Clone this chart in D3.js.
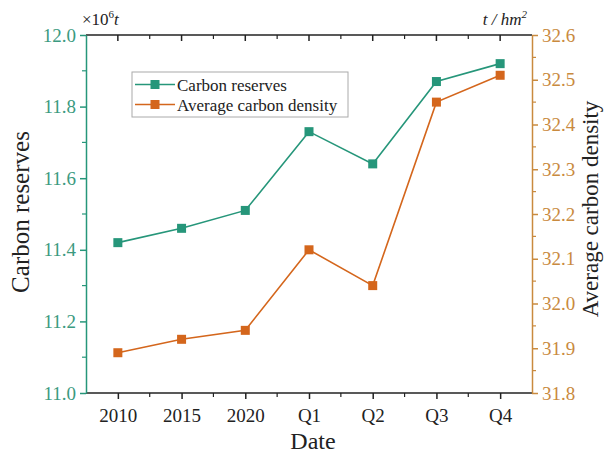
<!DOCTYPE html>
<html>
<head>
<meta charset="utf-8">
<script src="https://cdn.jsdelivr.net/npm/d3@7"></script>
<style>
  body { margin: 0; background: #fff; }
  svg, svg text { font-family: "Liberation Serif", "Times New Roman", serif; }
</style>
</head>
<body>
<script>
(function () {
    'use strict';

    var categories = ['2010', '2015', '2020', 'Q1', 'Q2', 'Q3', 'Q4'];
    var reserves = [11.42, 11.46, 11.51, 11.73, 11.64, 11.87, 11.92];
    var density = [31.89, 31.92, 31.94, 32.12, 32.04, 32.45, 32.51];
    var leftTicks = [11.0, 11.2, 11.4, 11.6, 11.8, 12.0];
    var rightTicks = [31.8, 31.9, 32.0, 32.1, 32.2, 32.3, 32.4, 32.5, 32.6];

    var green = '#26967a';
    var greenText = '#3b9a80';
    var orange = '#d4661c';
    var orangeAxis = '#c98a3e';
    var serif = '"Liberation Serif", "Times New Roman", serif';

    var width = 605, height = 454;
    var left = 86, right = 532, top = 35, bottom = 393;

    var svg = d3.select('body')
        .append('svg')
        .attr('width', width)
        .attr('height', height);

    var x = d3.scaleLinear()
        .domain([-0.5, categories.length - 0.5])
        .range([left, right]);
    var yL = d3.scaleLinear().domain([11.0, 12.0]).range([bottom, top]);
    var yR = d3.scaleLinear().domain([31.8, 32.6]).range([bottom, top]);

    var idx = d3.range(categories.length);
    var halfIdx = d3.range(0.5, categories.length - 1, 1);

    // bottom axis
    var gB = svg.append('g').attr('transform', 'translate(0,' + bottom + ')');
    gB.call(d3.axisBottom(x).tickValues(idx).tickSize(6)
        .tickFormat(function (d) { return categories[d]; }))
        .attr('font-family', null);
    gB.select('.domain').remove();
    gB.selectAll('.tick line').attr('stroke', '#222').attr('stroke-width', 1.5);
    gB.selectAll('.tick text')
        .style('font-family', serif).style('font-size', '19px')
        .attr('fill', '#222').attr('dy', '1.05em');
    gB.selectAll('.minor').data(halfIdx).enter().append('line')
        .attr('x1', function (d) { return x(d); })
        .attr('x2', function (d) { return x(d); })
        .attr('y1', 0).attr('y2', 4)
        .attr('stroke', '#222').attr('stroke-width', 1.2);

    // top axis (mirror, ticks inward)
    var gT = svg.append('g').attr('transform', 'translate(0,' + top + ')');
    gT.selectAll('.maj').data(idx).enter().append('line')
        .attr('x1', function (d) { return x(d); })
        .attr('x2', function (d) { return x(d); })
        .attr('y1', 0).attr('y2', 6)
        .attr('stroke', '#222').attr('stroke-width', 1.5);
    gT.selectAll('.minor').data(halfIdx).enter().append('line')
        .attr('x1', function (d) { return x(d); })
        .attr('x2', function (d) { return x(d); })
        .attr('y1', 0).attr('y2', 4)
        .attr('stroke', '#222').attr('stroke-width', 1.2);

    svg.append('line').attr('x1', left).attr('x2', right)
        .attr('y1', top).attr('y2', top)
        .attr('stroke', '#222').attr('stroke-width', 1.5);
    svg.append('line').attr('x1', left).attr('x2', right)
        .attr('y1', bottom).attr('y2', bottom)
        .attr('stroke', '#222').attr('stroke-width', 1.5);

    // left axis
    var gL = svg.append('g').attr('transform', 'translate(' + left + ',0)');
    gL.call(d3.axisLeft(yL).tickValues(leftTicks).tickSize(6).tickSizeOuter(0)
        .tickFormat(d3.format('.1f')))
        .attr('font-family', null);
    gL.select('.domain').attr('stroke', green).attr('stroke-width', 1.5);
    gL.selectAll('.tick line').attr('stroke', green).attr('stroke-width', 1.5);
    gL.selectAll('.tick text').style('font-family', serif).style('font-size', '19px')
        .attr('fill', greenText).attr('x', -10);
    gL.selectAll('.minor').data(d3.range(11.1, 12.0, 0.2)).enter().append('line')
        .attr('x1', 0).attr('x2', -4)
        .attr('y1', function (d) { return yL(d); })
        .attr('y2', function (d) { return yL(d); })
        .attr('stroke', green).attr('stroke-width', 1.2);

    // right axis
    var gR = svg.append('g').attr('transform', 'translate(' + right + ',0)');
    gR.call(d3.axisRight(yR).tickValues(rightTicks).tickSize(6).tickSizeOuter(0)
        .tickFormat(d3.format('.1f')))
        .attr('font-family', null);
    gR.select('.domain').attr('stroke', orangeAxis).attr('stroke-width', 1.5);
    gR.selectAll('.tick line').attr('stroke', orangeAxis).attr('stroke-width', 1.5);
    gR.selectAll('.tick text').style('font-family', serif).style('font-size', '19px')
        .attr('fill', orangeAxis).attr('x', 10);
    gR.selectAll('.minor').data(d3.range(31.85, 32.6, 0.1)).enter().append('line')
        .attr('x1', 0).attr('x2', 4)
        .attr('y1', function (d) { return yR(d); })
        .attr('y2', function (d) { return yR(d); })
        .attr('stroke', orangeAxis).attr('stroke-width', 1.2);

    // series
    function drawSeries(values, yScale, color) {
        var line = d3.line()
            .x(function (d, i) { return x(i); })
            .y(function (d) { return yScale(d); });
        svg.append('path').datum(values)
            .attr('d', line)
            .attr('fill', 'none')
            .attr('stroke', color)
            .attr('stroke-width', 1.6);
        svg.append('g').selectAll('rect').data(values).enter().append('rect')
            .attr('x', function (d, i) { return x(i) - 4.5; })
            .attr('y', function (d) { return yScale(d) - 4.5; })
            .attr('width', 9).attr('height', 9)
            .attr('fill', color);
    }
    drawSeries(reserves, yL, green);
    drawSeries(density, yR, orange);

    // legend
    var lg = svg.append('g');
    lg.append('rect').attr('x', 132).attr('y', 72).attr('width', 216).attr('height', 45)
        .attr('fill', '#fff').attr('stroke', '#aaa').attr('stroke-width', 1);
    [['Carbon reserves', green], ['Average carbon density', orange]].forEach(function (d, i) {
        var yy = 84.5 + i * 20;
        lg.append('line').attr('x1', 135).attr('x2', 175).attr('y1', yy).attr('y2', yy)
            .attr('stroke', d[1]).attr('stroke-width', 1.6);
        lg.append('rect').attr('x', 155 - 4.5).attr('y', yy - 4.5)
            .attr('width', 9).attr('height', 9).attr('fill', d[1]);
        lg.append('text').attr('x', 177).attr('y', yy + 6)
            .style('font-size', '17px').attr('fill', '#222').text(d[0]);
    });

    // axis titles
    svg.append('text')
        .attr('transform', 'translate(29,' + 212 + ') rotate(-90)')
        .attr('text-anchor', 'middle').style('font-size', '25px').attr('fill', '#222')
        .text('Carbon reserves');
    svg.append('text')
        .attr('transform', 'translate(598,' + 209 + ') rotate(-90)')
        .attr('text-anchor', 'middle').style('font-size', '23px').attr('fill', '#222')
        .text('Average carbon density');
    svg.append('text').attr('x', (left + right) / 2 + 4).attr('y', 449)
        .attr('text-anchor', 'middle').style('font-size', '24px').attr('fill', '#222')
        .text('Date');

    // unit labels
    var u1 = svg.append('text').attr('x', 82).attr('y', 25)
        .style('font-size', '17px').attr('fill', '#222');
    u1.append('tspan').text('\u00d710');
    u1.append('tspan').style('font-size', '11px').attr('dy', -7).text('6');
    u1.append('tspan').attr('dy', 7).attr('font-style', 'italic').text('t');

    var u2 = svg.append('text').attr('x', 527).attr('y', 25)
        .attr('text-anchor', 'end').style('font-size', '17px').attr('fill', '#222')
        .attr('font-style', 'italic');
    u2.append('tspan').text('t / hm');
    u2.append('tspan').style('font-size', '11px').attr('dy', -7).text('2');
}());
</script>
</body>
</html>
